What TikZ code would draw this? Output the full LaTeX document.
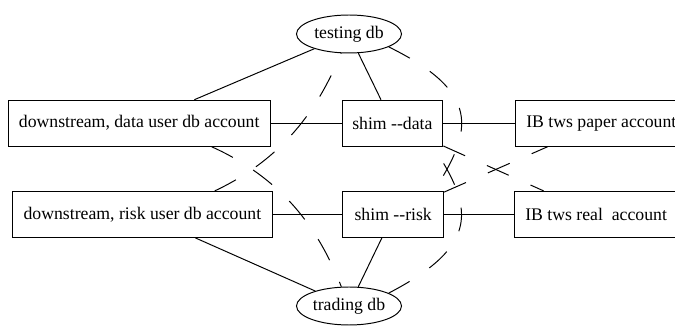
\documentclass[tikz,border=0pt]{standalone}
\usepackage{fontspec}
\setmainfont{Liberation Serif}
\newfontfamily\timesfont{Liberation Serif}
\usetikzlibrary{shapes.geometric}
\tikzset{%
  accountnode/.style={rectangle, draw, minimum height=1.15cm, inner xsep=0.27cm, align=center},
  shimnode/.style={rectangle, draw, minimum height=1.15cm, minimum width=2.52cm, align=center},
  dbnode/.style={ellipse, draw, minimum width=2.625cm, minimum height=0.95cm, inner sep=0pt},
  % solid and dashed links
  link/.style={draw},
  crosslink/.style={draw, dash pattern=on 17pt off 17pt}
}

\begin{document}
\begin{tikzpicture}[line width=0.7pt, font=\timesfont\fontsize{12.6}{15}\selectfont]
        \useasboundingbox (0,0) rectangle (16.875,-8.15);
        \clip (0,0) rectangle (16.875,-8.15);

        %Nodes
        \node[dbnode] (testdb) at (8.725,-0.85) {testing db};
        \node[dbnode] (tradedb) at (8.725,-7.65) {trading db};

        \node[accountnode] (dsdata) at (3.48,-3.08) {downstream, data user db account};
        \node[shimnode] (shimdata) at (9.81,-3.08) {shim -{}-data};
        \node[accountnode,anchor=west] (ibpaper) at (12.875,-3.08) {IB tws paper account};

        \node[accountnode] (dsrisk) at (3.56,-5.36) {downstream, risk user db account};
        \node[shimnode] (shimrisk) at (9.83,-5.36) {shim -{}-risk};
        \node[accountnode,anchor=west] (ibreal) at (12.85,-5.36) {IB tws real\ \ account};

        %Lines
        \draw[link] (testdb) -- (dsdata);
        \draw[link] (testdb) -- (shimdata);
        \draw[link] (tradedb) -- (dsrisk);
        \draw[link] (tradedb) -- (shimrisk);
        \draw[link] (dsdata) -- (shimdata);
        \draw[link] (dsrisk) -- (shimrisk);
        \draw[link] (shimdata) -- (ibpaper);
        \draw[link] (shimrisk) -- (ibreal);

        %Dashed lines
        \draw[crosslink] (dsdata.-18) .. controls (7.25,-4.55) and (8.05,-5.95) .. (tradedb);
        \draw[crosslink] (dsrisk.18) .. controls (7.25,-3.89) and (8.05,-2.49) .. (testdb);
        \draw[crosslink] (testdb.-18) .. controls (12.0,-2.3) and (11.85,-3.23) .. (shimrisk.30);
        \draw[crosslink] (tradedb.18) .. controls (12.0,-6.14) and (11.85,-5.21) .. (shimdata.-30);
        \draw[crosslink] (shimdata) -- (ibreal);
        \draw[crosslink] (shimrisk) -- (ibpaper);
\end{tikzpicture}
\end{document}
